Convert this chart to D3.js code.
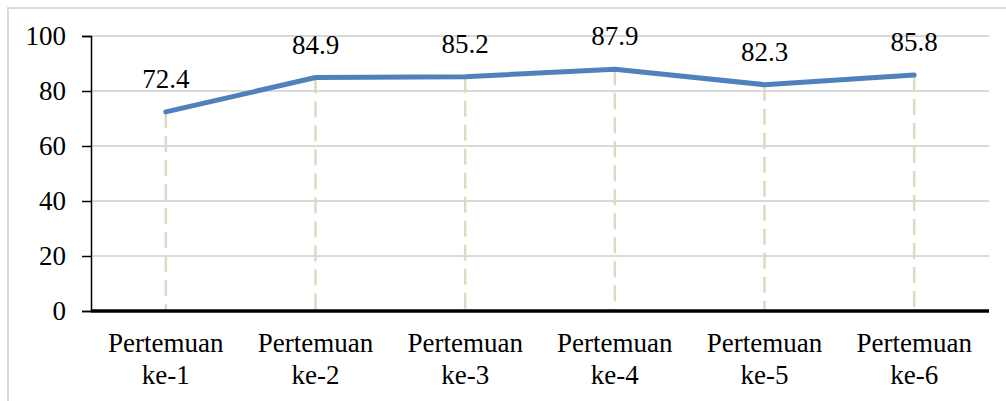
<!DOCTYPE html>
<html><head><meta charset="utf-8">
<script src="https://cdn.jsdelivr.net/npm/d3@7"></script>
<style>html,body{margin:0;padding:0;background:#fff;} svg{display:block;} svg text{font-family:"Liberation Serif","DejaVu Serif",serif !important;}</style>
</head><body>
<svg id="c" width="1006" height="401"></svg>
<script>
const categories = ["Pertemuan ke-1","Pertemuan ke-2","Pertemuan ke-3","Pertemuan ke-4","Pertemuan ke-5","Pertemuan ke-6"];
const values = [72.4, 84.9, 85.2, 87.9, 82.3, 85.8];
const yTicks = [0, 20, 40, 60, 80, 100];

(function () {
const svg = d3.select("#c");
const fs = 27;

// outer border
svg.append("rect").attr("x", 8).attr("y", 8).attr("width", 1010).attr("height", 400)
  .attr("fill", "none").attr("stroke", "#d9d9d9").attr("stroke-width", 2);

const pl = 91, pr = 989, pt = 36, pb = 311;
const x = d3.scaleBand().domain(categories).range([pl, pr]);
const y = d3.scaleLinear().domain([0, 100]).range([pb, pt]);

// gridlines
svg.append("g").selectAll("line").data(yTicks.filter(d => d > 0)).join("line")
  .attr("x1", pl).attr("x2", pr)
  .attr("y1", d => y(d)).attr("y2", d => y(d))
  .attr("stroke", "#d9d9d9").attr("stroke-width", 2);

// y axis
const yAxis = svg.append("g").attr("transform", `translate(${pl},0)`)
  .call(d3.axisLeft(y).tickValues(yTicks).tickSize(9).tickPadding(16));
yAxis.attr("font-family", null);
yAxis.select(".domain").attr("stroke", "#000").attr("stroke-width", 1.5);
yAxis.selectAll(".tick line").attr("stroke", "#000").attr("stroke-width", 1.5);
yAxis.selectAll("text").attr("font-size", fs).attr("fill", "#000");

// drop lines
const cx = d => x(d) + x.bandwidth() / 2;
svg.append("g").selectAll("line").data(categories).join("line")
  .attr("x1", cx).attr("x2", cx)
  .attr("y1", (d, i) => y(values[i])).attr("y2", pb)
  .attr("stroke", "#ddd9c3").attr("stroke-width", 2.5).attr("stroke-dasharray", "16,8");

// x axis line
svg.append("line").attr("x1", pl).attr("x2", pr).attr("y1", pb).attr("y2", pb)
  .attr("stroke", "#000").attr("stroke-width", 3.5);

// line
const line = d3.line().x((d, i) => cx(categories[i])).y(d => y(d));
svg.append("path").datum(values).attr("d", line)
  .attr("fill", "none").attr("stroke", "#4f81bd").attr("stroke-width", 5)
  .attr("stroke-linejoin", "round").attr("stroke-linecap", "round");

// data labels
svg.append("g").selectAll("text").data(values).join("text")
  .attr("x", (d, i) => cx(categories[i])).attr("y", d => y(d) - 24)
  .attr("text-anchor", "middle").attr("font-size", fs).attr("fill", "#000")
  .text(d => d.toFixed(1));

// category labels
const cl = svg.append("g").selectAll("text").data(categories).join("text")
  .attr("x", cx).attr("y", 352)
  .attr("text-anchor", "middle").attr("font-size", fs).attr("fill", "#000");
cl.each(function(d) {
  const parts = d.split(" ");
  const t = d3.select(this);
  parts.forEach((p, j) => {
    t.append("tspan").attr("x", cx(d)).attr("dy", j === 0 ? 0 : 32).text(p);
  });
});
})();
</script>
</body></html>
